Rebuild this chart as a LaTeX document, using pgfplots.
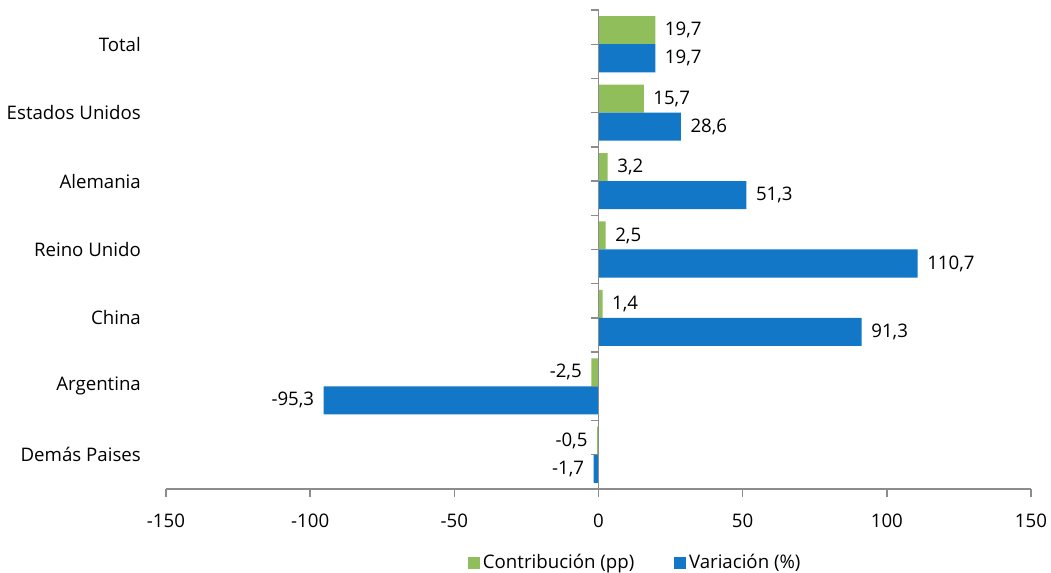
\documentclass[border=0pt]{standalone}
\usepackage{pgfplots}
\pgfplotsset{compat=1.18}
\usepackage{fontspec}
\setmainfont{Open Sans}
\definecolor{cgreen}{HTML}{8FBE5A}
\definecolor{cblue}{HTML}{1177C6}
\definecolor{axgray}{HTML}{8C8C8C}
\begin{document}
\begin{tikzpicture}[x=1pt,y=1pt]
\fontsize{14}{17}\selectfont
\path[use as bounding box] (0,0) rectangle (788.25,429.75);
\begin{axis}[
  at={(124.5pt,63pt)}, anchor=south west,
  scale only axis, width=648.75pt, height=359.25pt,
  xbar, bar width=0.41,
  xmin=-150, xmax=150, ymin=-0.5, ymax=6.5,
  axis x line*=bottom, axis y line*=left,
  y axis line style={draw=none},
  x axis line style={draw=axgray, line width=1pt},
  xtick={-150,-100,-50,0,50,100,150},
  xtick style={draw=axgray, line width=1pt},
  tick align=outside, major tick length=6pt,
  ytick={0,1,2,3,4,5,6},
  yticklabels={Demás Paises,Argentina,China,Reino Unido,Alemania,Estados Unidos,Total},
  ytick style={draw=none},
  yticklabel style={anchor=east, xshift=-8pt, font=\fontsize{14}{17}\selectfont},
  xticklabel style={font=\fontsize{14}{17}\selectfont, yshift=-8pt},
  /pgf/number format/assume math mode=true,
  nodes near coords,
  nodes near coords style={font=\fontsize{14}{17}\selectfont, inner sep=7pt,
    /pgf/number format/fixed, /pgf/number format/fixed zerofill,
    /pgf/number format/precision=1, /pgf/number format/use comma,
    /pgf/number format/assume math mode=true},
  legend style={draw=none, at={(0.543,-0.154)}, anchor=center, legend columns=2, font=\fontsize{14}{17}\selectfont, /tikz/every even column/.append style={column sep=28pt}},
  legend image code/.code={\fill[#1] (0pt,-4.5pt) rectangle (9pt,4.5pt);},
  clip=false,
]
\addplot[fill=cgreen, draw=none, bar shift=0.205] coordinates {
 (19.7,6) (15.7,5) (3.2,4) (2.5,3) (1.4,2) (-2.5,1) (-0.5,0)};
\addplot[fill=cblue, draw=none, bar shift=-0.205] coordinates {
 (19.7,6) (28.6,5) (51.3,4) (110.7,3) (91.3,2) (-95.3,1) (-1.7,0)};
\legend{Contribución (pp),Variación (\%)}
\draw[axgray, line width=1pt] (axis cs:0,-0.5) -- (axis cs:0,6.5);
\pgfplotsinvokeforeach{0,...,14}{
  \draw[axgray, line width=1pt] (axis cs:0,{-0.5+#1*0.5}) -- ++(-6pt,0pt);
}
\end{axis}
\end{tikzpicture}
\end{document}
